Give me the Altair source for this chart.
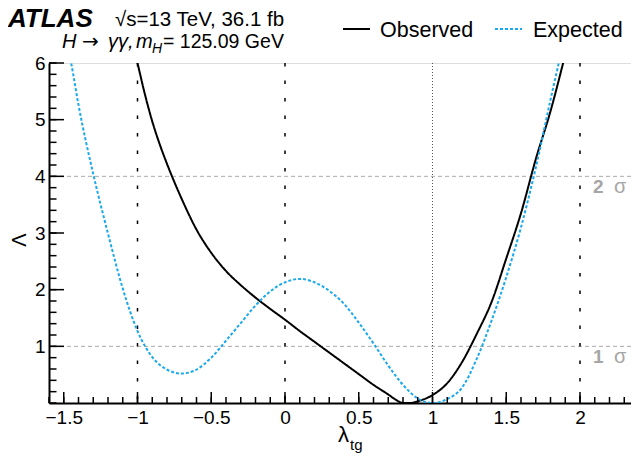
import altair as alt
import numpy as np
import pandas as pd

# ---- data ----
obs_x = [-1.02, -1.0, -0.95, -0.9, -0.85, -0.8, -0.7, -0.6, -0.5, -0.4, -0.3, -0.2, -0.1, 0.0,
         0.1, 0.2, 0.3, 0.4, 0.5, 0.6, 0.7, 0.75, 0.8, 0.85, 0.9, 1.0, 1.1, 1.2, 1.3, 1.4, 1.5,
         1.6, 1.7, 1.8, 1.9]
obs_y = [6.22, 6.0, 5.45, 4.97, 4.57, 4.22, 3.6, 3.06, 2.65, 2.33, 2.08, 1.86, 1.66, 1.47,
         1.27, 1.08, 0.89, 0.70, 0.51, 0.32, 0.15, 0.06, 0.0, 0.0, 0.03, 0.14, 0.35, 0.72, 1.22,
         1.78, 2.55, 3.35, 4.3, 5.15, 6.15]

exp_x = [-1.47, -1.45, -1.4, -1.3, -1.2, -1.1, -1.0, -0.9, -0.8, -0.7, -0.6, -0.5, -0.4, -0.3,
         -0.2, -0.1, 0.0, 0.1, 0.2, 0.3, 0.4, 0.5, 0.6, 0.7, 0.8, 0.9, 1.0, 1.1, 1.2, 1.3, 1.4,
         1.5, 1.6, 1.7, 1.8, 1.9]
exp_y = [6.25, 6.0, 5.26, 4.04, 2.99, 2.02, 1.27, 0.81, 0.59, 0.52, 0.59, 0.80, 1.10, 1.41,
         1.72, 1.97, 2.13, 2.19, 2.13, 1.98, 1.75, 1.42, 1.05, 0.66, 0.32, 0.08, 0.0, 0.07, 0.27,
         0.78, 1.45, 2.22, 3.1, 4.15, 5.35, 6.5]

series_names = ["Observed", "Expected"]
series_colors = ["#000000", "#1aa9ec"]

x_major = [-1.5, -1.0, -0.5, 0.0, 0.5, 1.0, 1.5, 2.0]
y_major = [1, 2, 3, 4, 5, 6]
dashed_vlines = [-1.0, 0.0, 2.0]
dotted_vlines = [1.0]
sigma_levels = [1, 4]
sigma_labels = ["1", "2"]

W, H = 582, 340
X_DOMAIN = [-1.6, -1.6 + W / 147.5]
Y_DOMAIN = [0, 6]
FONT = "Liberation Sans"

df = pd.concat([
    pd.DataFrame({"x": obs_x, "y": obs_y, "series": "Observed"}),
    pd.DataFrame({"x": exp_x, "y": exp_y, "series": "Expected"}),
])

xs = alt.Scale(domain=X_DOMAIN, nice=False, zero=False)
ys = alt.Scale(domain=Y_DOMAIN, nice=False, zero=False)

base_x = alt.X("x:Q", scale=xs,
               axis=alt.Axis(values=x_major, format="~g", ticks=False, grid=False, title=None,
                             labelFontSize=19, labelFont=FONT, labelColor="black",
                             labelPadding=5, domainColor="black", domainWidth=2,
                             labelFlush=False, labelOverlap=False))
base_y = alt.Y("y:Q", scale=ys,
               axis=alt.Axis(values=y_major, format="d", ticks=False, grid=False, title=None,
                             labelFontSize=19, labelFont=FONT, labelColor="black",
                             labelPadding=4, domainColor="black", domainWidth=2,
                             labelFlush=False, labelOverlap=False))

curves = alt.Chart(df).mark_line(clip=True, strokeWidth=2, interpolate="monotone").encode(
    x=base_x, y=base_y,
    color=alt.Color("series:N", scale=alt.Scale(domain=series_names, range=series_colors), legend=None),
    strokeDash=alt.StrokeDash("series:N", scale=alt.Scale(domain=series_names, range=[[1, 0], [3, 2]]), legend=None),
    detail="series:N",
)

vdash = alt.Chart(pd.DataFrame({"x": dashed_vlines})).mark_rule(
    color="black", strokeWidth=1.5, strokeDash=[3.5, 14]).encode(x=alt.X("x:Q", scale=xs))
vdot = alt.Chart(pd.DataFrame({"x": dotted_vlines})).mark_rule(
    color="#555555", strokeWidth=1, strokeDash=[1, 2]).encode(x=alt.X("x:Q", scale=xs))
hdash = alt.Chart(pd.DataFrame({"y": sigma_levels})).mark_rule(
    color="#aaaaaa", strokeWidth=1, strokeDash=[4, 3]).encode(y=alt.Y("y:Q", scale=ys))

# inward ticks
x_minor = [round(v, 2) for v in np.arange(-1.6, 2.31, 0.1)]
y_minor = [round(v, 2) for v in np.arange(0, 6.01, 0.2)]
xt_minor = alt.Chart(pd.DataFrame({"x": x_minor})).mark_rule(color="black", strokeWidth=1.5).encode(
    x=alt.X("x:Q", scale=xs), y=alt.value(H), y2=alt.value(H - 6))
xt_major = alt.Chart(pd.DataFrame({"x": x_major})).mark_rule(color="black", strokeWidth=1.5).encode(
    x=alt.X("x:Q", scale=xs), y=alt.value(H), y2=alt.value(H - 11))
yt_minor = alt.Chart(pd.DataFrame({"y": y_minor})).mark_rule(color="black", strokeWidth=1.5).encode(
    y=alt.Y("y:Q", scale=ys), x=alt.value(0), x2=alt.value(7.5))
yt_major = alt.Chart(pd.DataFrame({"y": y_major})).mark_rule(color="black", strokeWidth=1.5).encode(
    y=alt.Y("y:Q", scale=ys), x=alt.value(0), x2=alt.value(15))

# sigma labels
sig_df = pd.DataFrame({"y": sigma_levels, "t": sigma_labels})
sig_num = alt.Chart(sig_df).mark_text(align="left", baseline="alphabetic", dy=17, fontSize=19,
                                      fontWeight="bold", font=FONT, color="#a6a6a6").encode(
    x=alt.value(544), y=alt.Y("y:Q", scale=ys), text="t:N")
sig_sym = alt.Chart(sig_df).mark_text(align="left", baseline="alphabetic", dy=17, fontSize=20,
                                      font=FONT, color="#a6a6a6").encode(
    x=alt.value(565), y=alt.Y("y:Q", scale=ys), text=alt.value("σ"))

def txt(s, x, y, size, **kw):
    return alt.Chart(pd.DataFrame({"a": [0]})).mark_text(
        align=kw.pop("align", "left"), baseline=kw.pop("baseline", "alphabetic"),
        fontSize=size, font=kw.pop("font", FONT), color=kw.pop("color", "black"), **kw).encode(
        x=alt.value(x), y=alt.value(y), text=alt.value(s))

# page coords -> plot coords: subtract (49, 63)
header = [
    txt("ATLAS", -41, -36, 26, fontWeight="bold", fontStyle="italic"),
    txt("√s=13 TeV, 36.1 fb", 66, -37, 20.5),
    txt("H", 13, -15, 20, fontStyle="italic"),
    txt("→", 33, -15, 20, font="DejaVu Sans"),
    txt("γγ,", 59, -15, 20, fontStyle="italic"),
    txt("m", 87, -15, 20, fontStyle="italic"),
    txt("H", 103, -10, 14, fontStyle="italic"),
    txt("= 125.09 GeV", 114, -15, 19.5),
]

legend = [
    alt.Chart(pd.DataFrame({"a": [0]})).mark_rule(color=series_colors[0], strokeWidth=2).encode(
        x=alt.value(294), x2=alt.value(321), y=alt.value(-34)),
    txt(series_names[0], 331, -26, 21.5),
    alt.Chart(pd.DataFrame({"a": [0]})).mark_rule(color=series_colors[1], strokeWidth=2, strokeDash=[3, 2]).encode(
        x=alt.value(446), x2=alt.value(473), y=alt.value(-34)),
    txt(series_names[1], 484, -26, 21.5),
]

titles = [
    txt("λ", 289, 379, 22),
    txt("tg", 301, 387, 15),
    txt("Λ", -29, 177, 20, angle=270, align="center", baseline="middle"),
]

chart = alt.layer(
    hdash, vdash, vdot, curves, xt_minor, xt_major, yt_minor, yt_major,
    sig_num, sig_sym, *header, *legend, *titles
).properties(
    width=W, height=H,
    autosize=alt.AutoSizeParams(type="none"),
    padding={"left": 41, "top": 55, "right": 0, "bottom": 50},
).configure_view(stroke="#444444", strokeWidth=1.5).configure(background="white")

chart.save("out.html", embed_options={"renderer": "svg", "actions": False})
